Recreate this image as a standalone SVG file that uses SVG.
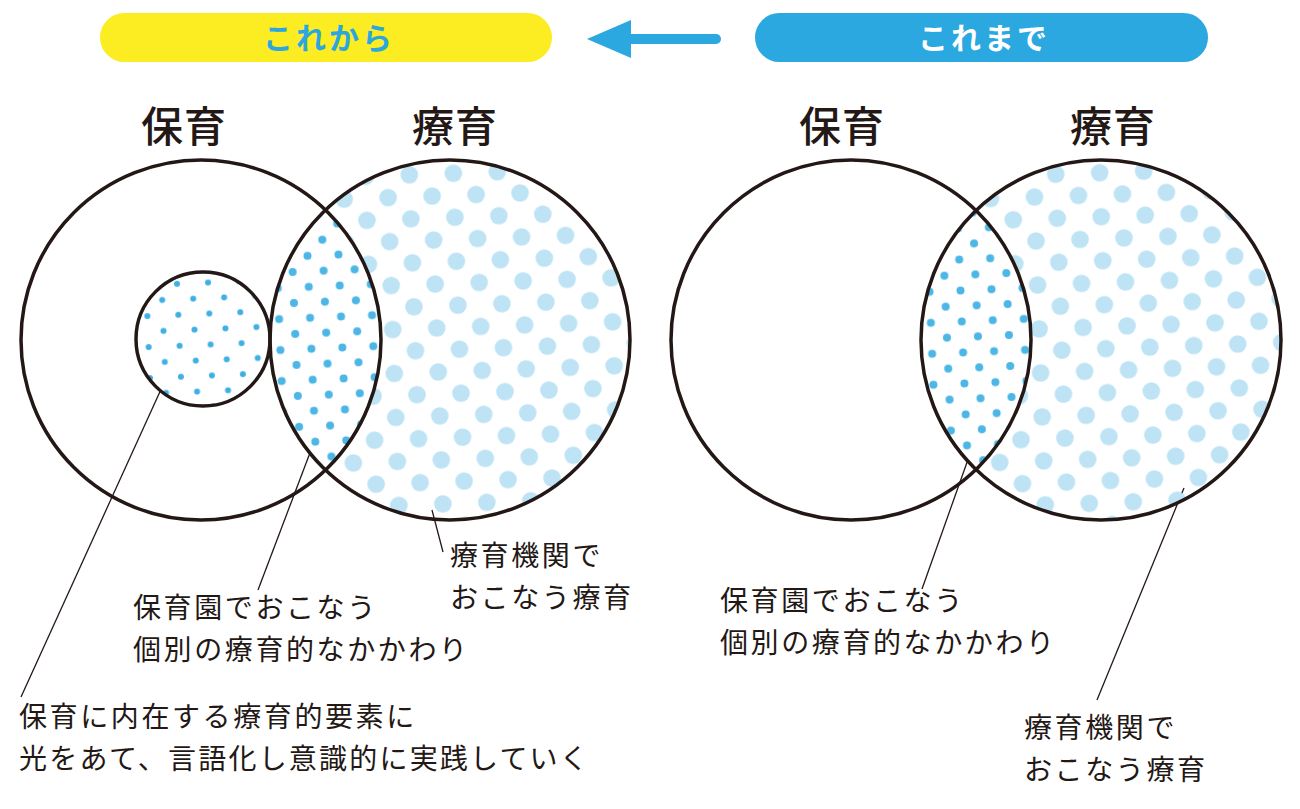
<svg xmlns="http://www.w3.org/2000/svg" width="1300" height="809" viewBox="0 0 1300 809">
<style>
.t{font-family:"Noto Sans CJK JP","Noto Sans",sans-serif;}
.lbl{font-size:28px;fill:#231815;letter-spacing:2.6px;}
.ttl{font-size:42px;font-weight:500;fill:#231815;letter-spacing:1px;}
.hdr{font-size:30px;font-weight:700;letter-spacing:3px;}
.ring{fill:none;stroke:#231815;stroke-width:3.5;}
.lead{stroke:#231815;stroke-width:1.3;fill:none;}
</style>
<defs>
<pattern id="big" patternUnits="userSpaceOnUse" width="44" height="44" x="7" y="13" patternTransform="rotate(-2)">
<circle cx="0" cy="0" r="8.8" fill="#bde3f5"/><circle cx="44" cy="0" r="8.8" fill="#bde3f5"/><circle cx="0" cy="44" r="8.8" fill="#bde3f5"/><circle cx="44" cy="44" r="8.8" fill="#bde3f5"/><circle cx="22" cy="22" r="8.8" fill="#bde3f5"/>
</pattern>
<pattern id="big2" patternUnits="userSpaceOnUse" width="44" height="44" x="15" y="13" patternTransform="rotate(-2)">
<circle cx="0" cy="0" r="8.8" fill="#bde3f5"/><circle cx="44" cy="0" r="8.8" fill="#bde3f5"/><circle cx="0" cy="44" r="8.8" fill="#bde3f5"/><circle cx="44" cy="44" r="8.8" fill="#bde3f5"/><circle cx="22" cy="22" r="8.8" fill="#bde3f5"/>
</pattern>
<pattern id="small" patternUnits="userSpaceOnUse" width="31" height="31" x="2" y="5" patternTransform="rotate(-2.4)">
<circle cx="0" cy="0" r="4" fill="#4cb6e5"/><circle cx="31" cy="0" r="4" fill="#4cb6e5"/><circle cx="0" cy="31" r="4" fill="#4cb6e5"/><circle cx="31" cy="31" r="4" fill="#4cb6e5"/><circle cx="15.5" cy="15.5" r="4" fill="#4cb6e5"/>
</pattern>
<pattern id="tiny" patternUnits="userSpaceOnUse" width="31" height="31" x="10" y="12" patternTransform="rotate(-2.4)">
<circle cx="0" cy="0" r="3" fill="#3fb0e3"/><circle cx="31" cy="0" r="3" fill="#3fb0e3"/><circle cx="0" cy="31" r="3" fill="#3fb0e3"/><circle cx="31" cy="31" r="3" fill="#3fb0e3"/><circle cx="15.5" cy="15.5" r="3" fill="#3fb0e3"/>
</pattern>
<clipPath id="clipL"><circle cx="201" cy="340" r="180"/></clipPath>
<clipPath id="clipR"><circle cx="851" cy="340" r="180"/></clipPath>
</defs>
<rect width="1300" height="809" fill="#ffffff"/>

<g id="header-future">
<rect x="100" y="13" width="452" height="49" rx="24.5" fill="#fcec22"/>
<text class="t hdr" x="329" y="49" text-anchor="middle" fill="#2ba7df">これから</text>
</g>
<g id="header-past">
<rect x="755" y="13" width="453" height="49" rx="24.5" fill="#2ba8e0"/>
<text class="t hdr" x="984" y="49" text-anchor="middle" fill="#ffffff">これまで</text>
</g>
<g id="connectors">
<line x1="716" y1="39" x2="625" y2="39" stroke="#2ba8e0" stroke-width="10" stroke-linecap="round"/>
<polygon points="587,39 631,20 631,58" fill="#2ba8e0"/>
<line class="lead" x1="163" y1="385" x2="21" y2="697"/>
<line class="lead" x1="316" y1="437" x2="258" y2="590"/>
<line class="lead" x1="432" y1="510" x2="443" y2="552"/>
<line class="lead" x1="976" y1="437" x2="922" y2="589"/>
<line class="lead" x1="1184" y1="488" x2="1097" y2="700"/>
</g>

<g id="left-ryoiku">
<circle cx="450" cy="340" r="180" fill="url(#big)"/>
<g clip-path="url(#clipL)"><circle cx="450" cy="340" r="180" fill="#ffffff"/><circle cx="450" cy="340" r="180" fill="url(#small)"/></g>
</g>
<g id="left-hoiku-core">
<circle cx="203" cy="339" r="67" fill="#ffffff"/>
<circle cx="203" cy="339" r="67" fill="url(#tiny)"/>
</g>
<g id="left-rings">
<circle class="ring" cx="201" cy="340" r="180"/>
<circle class="ring" cx="450" cy="340" r="180"/>
<circle class="ring" cx="203" cy="339" r="67"/>
</g>

<g id="right-ryoiku">
<circle cx="1101" cy="340" r="180" fill="url(#big2)"/>
<g clip-path="url(#clipR)"><circle cx="1101" cy="340" r="180" fill="#ffffff"/><circle cx="1101" cy="340" r="180" fill="url(#small)"/></g>
</g>
<g id="right-rings">
<circle class="ring" cx="851" cy="340" r="180"/>
<circle class="ring" cx="1101" cy="340" r="180"/>
</g>

<g id="titles">
<text class="t ttl" x="141" y="142">保育</text>
<text class="t ttl" x="412" y="142">療育</text>
<text class="t ttl" x="799" y="142">保育</text>
<text class="t ttl" x="1070" y="142">療育</text>
</g>

<g id="label-left-ryoiku">
<text class="t lbl" x="450" y="566">療育機関で</text>
<text class="t lbl" x="450" y="608">おこなう療育</text>
</g>
<g id="label-left-lens">
<text class="t lbl" x="133" y="618">保育園でおこなう</text>
<text class="t lbl" x="133" y="660">個別の療育的なかかわり</text>
</g>
<g id="label-left-core">
<text class="t lbl" x="19" y="727">保育に内在する療育的要素に</text>
<text class="t lbl" x="19" y="769" style="letter-spacing:2.2px">光をあて、言語化し意識的に実践していく</text>
</g>
<g id="label-right-lens">
<text class="t lbl" x="720" y="611">保育園でおこなう</text>
<text class="t lbl" x="720" y="653">個別の療育的なかかわり</text>
</g>
<g id="label-right-ryoiku">
<text class="t lbl" x="1024" y="738">療育機関で</text>
<text class="t lbl" x="1024" y="780">おこなう療育</text>
</g>
</svg>
